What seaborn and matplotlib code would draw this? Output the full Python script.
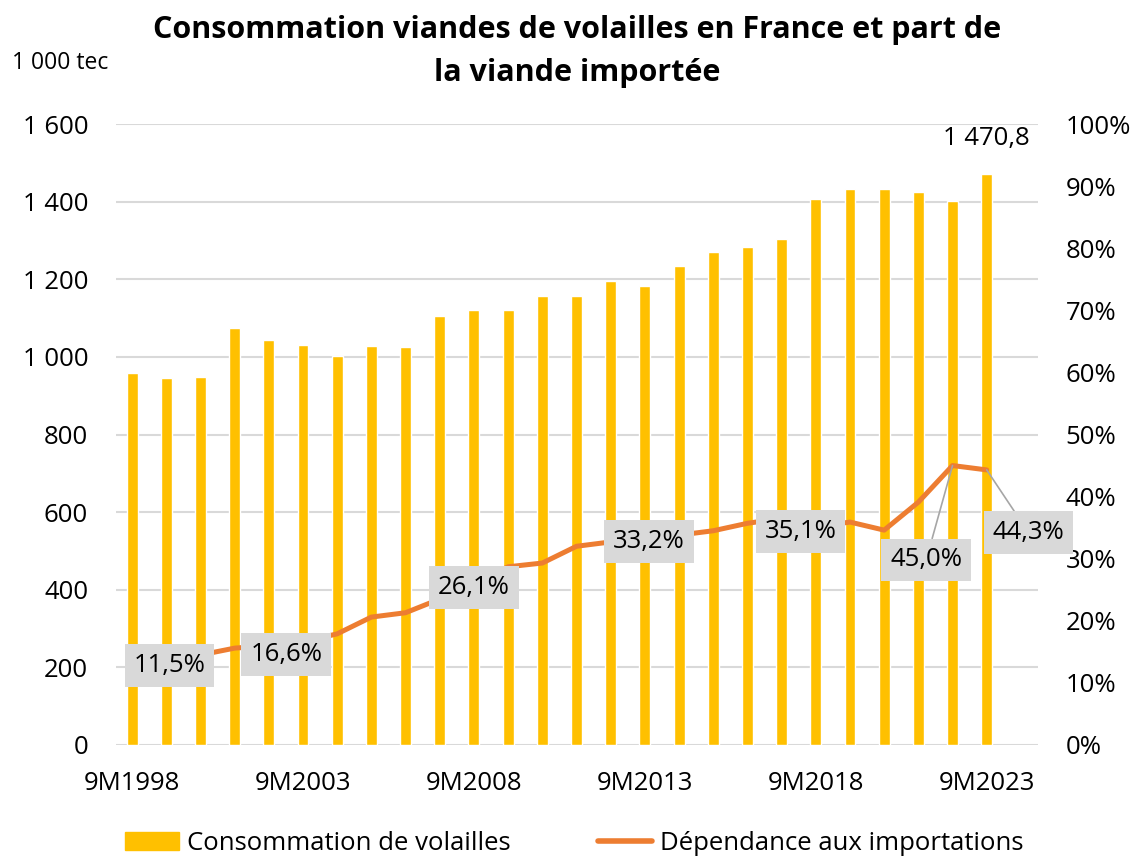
import numpy as np
import pandas as pd
import matplotlib
matplotlib.use("Agg")
import matplotlib.pyplot as plt
import seaborn as sns
from matplotlib.ticker import FuncFormatter, FixedLocator
from matplotlib.patches import Patch
from matplotlib.lines import Line2D

# data
years = [f"9M{y}" for y in range(1998, 2024)]
consommation = [958, 945, 948, 1075, 1043, 1030, 1003, 1027, 1025, 1105,
                1122, 1120, 1158, 1158, 1196, 1183, 1235, 1271, 1283, 1304,
                1407, 1432, 1433, 1425, 1401, 1470.8]
dependance = [11.5, 13.0, 14.5, 15.6, 16.0, 16.6, 17.9, 20.6, 21.3, 23.5,
              26.1, 28.7, 29.3, 32.0, 32.7, 33.2, 33.8, 34.5, 35.7, 36.5,
              35.1, 35.9, 34.6, 39.1, 45.0, 44.3]
tick_years = ["9M1998", "9M2003", "9M2008", "9M2013", "9M2018", "9M2023"]
# labelled points: index, offset (points)
label_idx = [0, 5, 10, 15, 20, 24, 25]
label_off = [(27, 6), (-12, -9), (0, -3), (3, -2), (-11, -3), (-19, -68), (30, -45)]

df = pd.DataFrame({"annee": years, "conso": consommation, "dep": dependance})
df["pos"] = np.arange(len(df))

sns.set_style("white")
plt.rcParams["font.family"] = ["Open Sans", "DejaVu Sans"]
plt.rcParams["text.color"] = "black"
plt.rcParams["xtick.color"] = "black"
plt.rcParams["ytick.color"] = "black"

BAR = "#FFC000"
LINE = "#ED7D31"
GRID = "#D9D9D9"
FS = 18.5

fig = plt.figure(figsize=(11.37, 8.57), dpi=100)
ax = fig.add_axes([116 / 1137, 112 / 857, 922 / 1137, 621 / 857])

sns.barplot(data=df, x="annee", y="conso", color=BAR, width=0.32,
            saturation=1, ax=ax, zorder=2)
ax.set_ylim(0, 1600)
ax.set_xlim(-0.47, 26.5)
ax.yaxis.set_major_locator(FixedLocator(range(0, 1601, 200)))
ax.yaxis.set_major_formatter(FuncFormatter(lambda v, p: f"{v:,.0f}".replace(",", " ")))
ax.set_xticks([years.index(t) for t in tick_years])
ax.set_xticklabels(tick_years)
ax.grid(axis="y", color=GRID, lw=1.5, zorder=0)
ax.set_axisbelow(True)
ax.set_xlabel("")
ax.set_ylabel("")
for s in ax.spines.values():
    s.set_visible(False)
ax.tick_params(axis="y", length=0, pad=20, labelsize=FS)
ax.tick_params(axis="x", length=0, pad=19, labelsize=FS)

ax.text(len(years) - 1, consommation[-1] + 60, "1 470,8", ha="center",
        va="bottom", fontsize=FS)

ax2 = ax.twinx()
sns.lineplot(data=df, x="pos", y="dep", color=LINE, lw=3.6, ax=ax2, zorder=3)
ax2.set_ylim(0, 100)
ax2.set_xlim(-0.47, 26.5)
ax2.yaxis.set_major_locator(FixedLocator(range(0, 101, 10)))
ax2.yaxis.set_major_formatter(FuncFormatter(lambda v, p: f"{v:.0f}%"))
ax2.set_ylabel("")
ax2.set_xlabel("")
for s in ax2.spines.values():
    s.set_visible(False)
ax2.tick_params(axis="y", length=0, pad=20, labelsize=FS)

for i, off in zip(label_idx, label_off):
    lead = abs(off[1]) > 30
    ax2.annotate(f"{dependance[i]:.1f}%".replace(".", ","),
                 xy=(i, dependance[i]), xytext=off, textcoords="offset points",
                 ha="center", va="center", fontsize=FS, zorder=5,
                 bbox=dict(boxstyle="square,pad=0.35", fc=GRID, ec="none"),
                 arrowprops=dict(arrowstyle="-", color="#A6A6A6", lw=1.2,
                                 shrinkA=0, shrinkB=0) if lead else None)

fig.text(0.5075, 0.983, "Consommation viandes de volailles en France et part de\nla viande importée",
         ha="center", va="top", fontsize=22, fontweight="bold", linespacing=1.6)
fig.text(12 / 1137, 1 - 63 / 857, "1 000 tec", ha="left", va="center", fontsize=16.5)

handles = [Patch(color=BAR), Line2D([0], [0], color=LINE, lw=4)]
fig.legend(handles, ["Consommation de volailles", "Dépendance aux importations"],
           loc="center", bbox_to_anchor=(0.505, 1 - 843 / 857), ncol=2, frameon=False,
           fontsize=FS, handlelength=2.1, handletextpad=0.3, columnspacing=3.4)

fig.savefig("out.png", dpi=100)
